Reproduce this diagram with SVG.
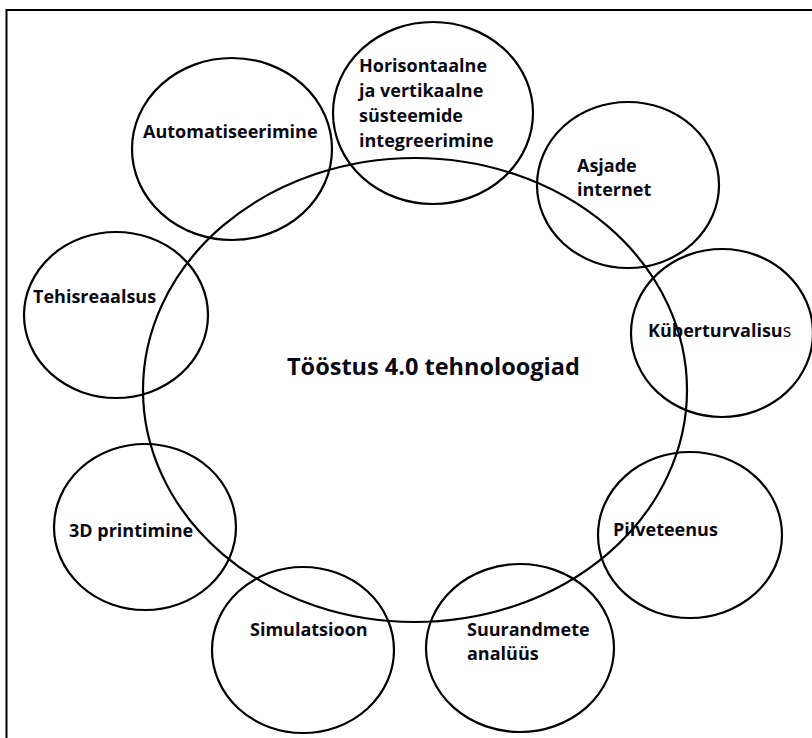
<svg xmlns="http://www.w3.org/2000/svg" width="812" height="738" viewBox="0 0 812 738">
  <style>
    .ring { fill: none; stroke: #000; stroke-width: 2.2; }
    .frame { fill: none; stroke: #000; stroke-width: 2; }
    .lbl { font-family: "Open Sans", "Liberation Sans", sans-serif; font-weight: bold; font-size: 18px; fill: #0a0a14; }
    .title { font-family: "Open Sans", "Liberation Sans", sans-serif; font-weight: bold; font-size: 23.5px; fill: #0a0a14; }
  </style>
  <rect width="812" height="738" fill="#fff"/>
  <!-- page frame (top and left edges) -->
  <path class="frame" d="M6.5 738 V10 H812"/>

  <!-- central hub -->
  <g id="hub">
    <ellipse class="ring" cx="415" cy="390" rx="272" ry="232"/>
    <text class="title" x="287" y="375">Tööstus 4.0 tehnoloogiad</text>
  </g>

  <!-- no connectors: satellites overlap the hub directly -->
  <g id="connectors"/>

  <g id="automatiseerimine">
    <ellipse class="ring" cx="232" cy="149" rx="100" ry="91"/>
    <text class="lbl" x="143" y="138">Automatiseerimine</text>
  </g>

  <g id="integreerimine">
    <ellipse class="ring" cx="433" cy="113" rx="100" ry="91"/>
    <text class="lbl" x="359" y="72">Horisontaalne</text>
    <text class="lbl" x="359" y="97">ja vertikaalne</text>
    <text class="lbl" x="359" y="122">süsteemide</text>
    <text class="lbl" x="359" y="147">integreerimine</text>
  </g>

  <g id="asjade-internet">
    <ellipse class="ring" cx="628" cy="185" rx="91" ry="83"/>
    <text class="lbl" x="577" y="172">Asjade</text>
    <text class="lbl" x="577" y="196">internet</text>
  </g>

  <g id="kuberturvalisus">
    <ellipse class="ring" cx="722" cy="333" rx="91" ry="84"/>
    <text class="lbl" x="648" y="337">Küberturvalisu<tspan font-weight="normal">s</tspan></text>
  </g>

  <g id="tehisreaalsus">
    <ellipse class="ring" cx="116" cy="315" rx="92" ry="83"/>
    <text class="lbl" x="33" y="303">Tehisreaalsus</text>
  </g>

  <g id="printimine">
    <ellipse class="ring" cx="145" cy="527" rx="91" ry="83"/>
    <text class="lbl" x="69" y="537">3D printimine</text>
  </g>

  <g id="simulatsioon">
    <ellipse class="ring" cx="303" cy="650" rx="91" ry="83"/>
    <text class="lbl" x="250" y="636">Simulatsioon</text>
  </g>

  <g id="suurandmete">
    <ellipse class="ring" cx="520" cy="648" rx="94" ry="84"/>
    <text class="lbl" x="467" y="636">Suurandmete</text>
    <text class="lbl" x="467" y="660">analüüs</text>
  </g>

  <g id="pilveteenus">
    <ellipse class="ring" cx="690" cy="535" rx="92" ry="83"/>
    <text class="lbl" x="613" y="536">Pilveteenus</text>
  </g>
</svg>
